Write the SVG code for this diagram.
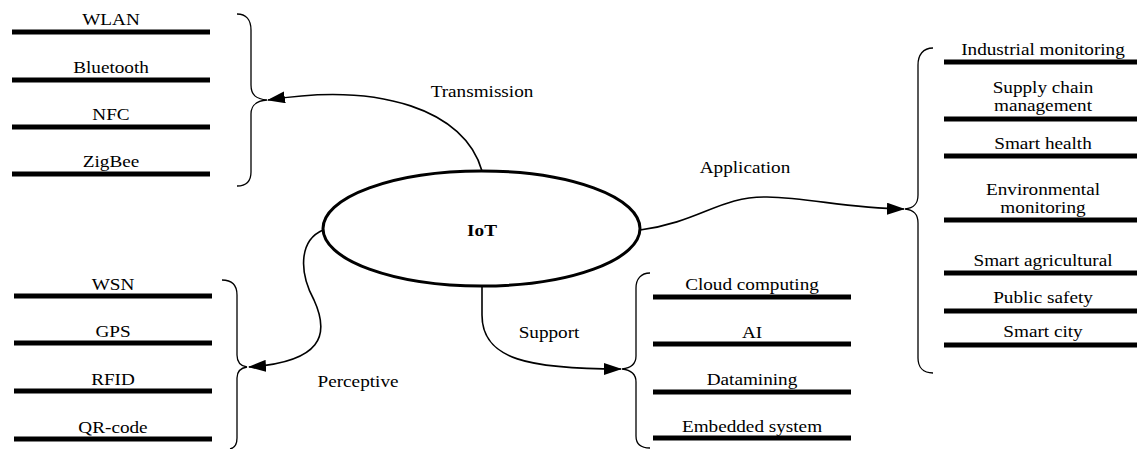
<svg xmlns="http://www.w3.org/2000/svg" width="1137" height="449" viewBox="0 0 1137 449" font-family="Liberation Serif, Times New Roman, serif">
<style>
text{font-family:'Liberation Serif','Times New Roman',serif;font-size:16px;fill:#000;text-anchor:middle}
.bar{stroke:#000;stroke-width:5;fill:none}
.brace{stroke:#000;stroke-width:1.3;fill:none}
.conn{stroke:#000;stroke-width:1.6;fill:none}
</style>
<defs>
<marker id="ah" markerUnits="userSpaceOnUse" markerWidth="18" markerHeight="12" viewBox="0 0 18 12" refX="17" refY="6" orient="auto">
<path d="M0,0 L18,6 L0,12 Z" fill="#000"/>
</marker>
</defs>
<rect width="1137" height="449" fill="#fff"/>

<g id="iot">
<ellipse cx="481.5" cy="228.5" rx="158.5" ry="57.5" fill="#fff" stroke="#000" stroke-width="3"/>
<text transform="translate(482,236) scale(1.2,1)" font-weight="bold">IoT</text>
</g>

<g id="connectors">
<path class="conn" d="M482,171 C465,110 380,82 268,100" marker-end="url(#ah)"/>
<path class="conn" d="M323,230 C300,240 298,270 314,300 C330,335 322,362 249,367" marker-end="url(#ah)"/>
<path class="conn" d="M482,287 L482,315 C482,360 530,369 621,369" marker-end="url(#ah)"/>
<path class="conn" d="M640,230 C700,222 720,196 767,197 C812,198 845,208 904,209" marker-end="url(#ah)"/>
<text transform="translate(482,97) scale(1.2,1)">Transmission</text>
<text transform="translate(358,387) scale(1.2,1)">Perceptive</text>
<text transform="translate(549,338) scale(1.2,1)">Support</text>
<text transform="translate(745,173) scale(1.2,1)">Application</text>
</g>

<g id="transmission-group">
<path class="brace" d="M237,14 C246,14 251,20 251,30 L251,85 C251,95 256,99 267,100 C256,101 251,105 251,114 L251,172 C251,182 246,186 237,186"/>
<g id="wlan"><line class="bar" x1="12" y1="32" x2="210" y2="32"/><text transform="translate(111,25) scale(1.2,1)">WLAN</text></g>
<g id="bluetooth"><line class="bar" x1="12" y1="80" x2="210" y2="80"/><text transform="translate(111,73) scale(1.2,1)">Bluetooth</text></g>
<g id="nfc"><line class="bar" x1="12" y1="127" x2="210" y2="127"/><text transform="translate(111,120) scale(1.2,1)">NFC</text></g>
<g id="zigbee"><line class="bar" x1="12" y1="174" x2="210" y2="174"/><text transform="translate(111,167) scale(1.2,1)">ZigBee</text></g>
</g>

<g id="perceptive-group">
<path class="brace" d="M222,280 C232,280 237,285 237,295 L237,355 C237,362 240,366 247,367 C240,368 237,372 237,378 L237,438 C237,445 235,448 230,449"/>
<g id="wsn"><line class="bar" x1="14" y1="296" x2="212" y2="296"/><text transform="translate(113,290) scale(1.2,1)">WSN</text></g>
<g id="gps"><line class="bar" x1="14" y1="343" x2="212" y2="343"/><text transform="translate(113,337) scale(1.2,1)">GPS</text></g>
<g id="rfid"><line class="bar" x1="14" y1="391" x2="212" y2="391"/><text transform="translate(113,385) scale(1.2,1)">RFID</text></g>
<g id="qrcode"><line class="bar" x1="14" y1="439" x2="212" y2="439"/><text transform="translate(113,433) scale(1.2,1)">QR-code</text></g>
</g>

<g id="support-group">
<path class="brace" d="M650,273 C641,273 636,279 636,288 L636,356 C636,364 631,368 622,369 C631,370 636,374 636,382 L636,436 C636,444 641,448 650,448"/>
<g id="cloud"><line class="bar" x1="653" y1="297" x2="851" y2="297"/><text transform="translate(752,290) scale(1.2,1)">Cloud computing</text></g>
<g id="ai"><line class="bar" x1="653" y1="344" x2="851" y2="344"/><text transform="translate(752,338) scale(1.2,1)">AI</text></g>
<g id="datamining"><line class="bar" x1="653" y1="392" x2="851" y2="392"/><text transform="translate(752,385) scale(1.2,1)">Datamining</text></g>
<g id="embedded"><line class="bar" x1="653" y1="438" x2="851" y2="438"/><text transform="translate(752,432) scale(1.2,1)">Embedded system</text></g>
</g>

<g id="application-group">
<path class="brace" d="M933,48 C923,48 918,55 918,65 L918,195 C918,204 914,208 905,209 C914,210 918,214 918,223 L918,358 C918,367 923,373 933,373"/>
<g id="industrial"><line class="bar" x1="944" y1="62" x2="1137" y2="62"/><text transform="translate(1043,55) scale(1.2,1)">Industrial monitoring</text></g>
<g id="supply"><line class="bar" x1="944" y1="119" x2="1137" y2="119"/><text transform="translate(1043,93) scale(1.2,1)">Supply chain</text><text transform="translate(1043,111) scale(1.2,1)">management</text></g>
<g id="health"><line class="bar" x1="944" y1="156" x2="1137" y2="156"/><text transform="translate(1043,149) scale(1.2,1)">Smart health</text></g>
<g id="environmental"><line class="bar" x1="944" y1="220" x2="1137" y2="220"/><text transform="translate(1043,195) scale(1.2,1)">Environmental</text><text transform="translate(1043,213) scale(1.2,1)">monitoring</text></g>
<g id="agricultural"><line class="bar" x1="944" y1="273" x2="1137" y2="273"/><text transform="translate(1043,266) scale(1.2,1)">Smart agricultural</text></g>
<g id="safety"><line class="bar" x1="944" y1="311" x2="1137" y2="311"/><text transform="translate(1043,303) scale(1.2,1)">Public safety</text></g>
<g id="city"><line class="bar" x1="944" y1="345" x2="1137" y2="345"/><text transform="translate(1043,337) scale(1.2,1)">Smart city</text></g>
</g>
</svg>
